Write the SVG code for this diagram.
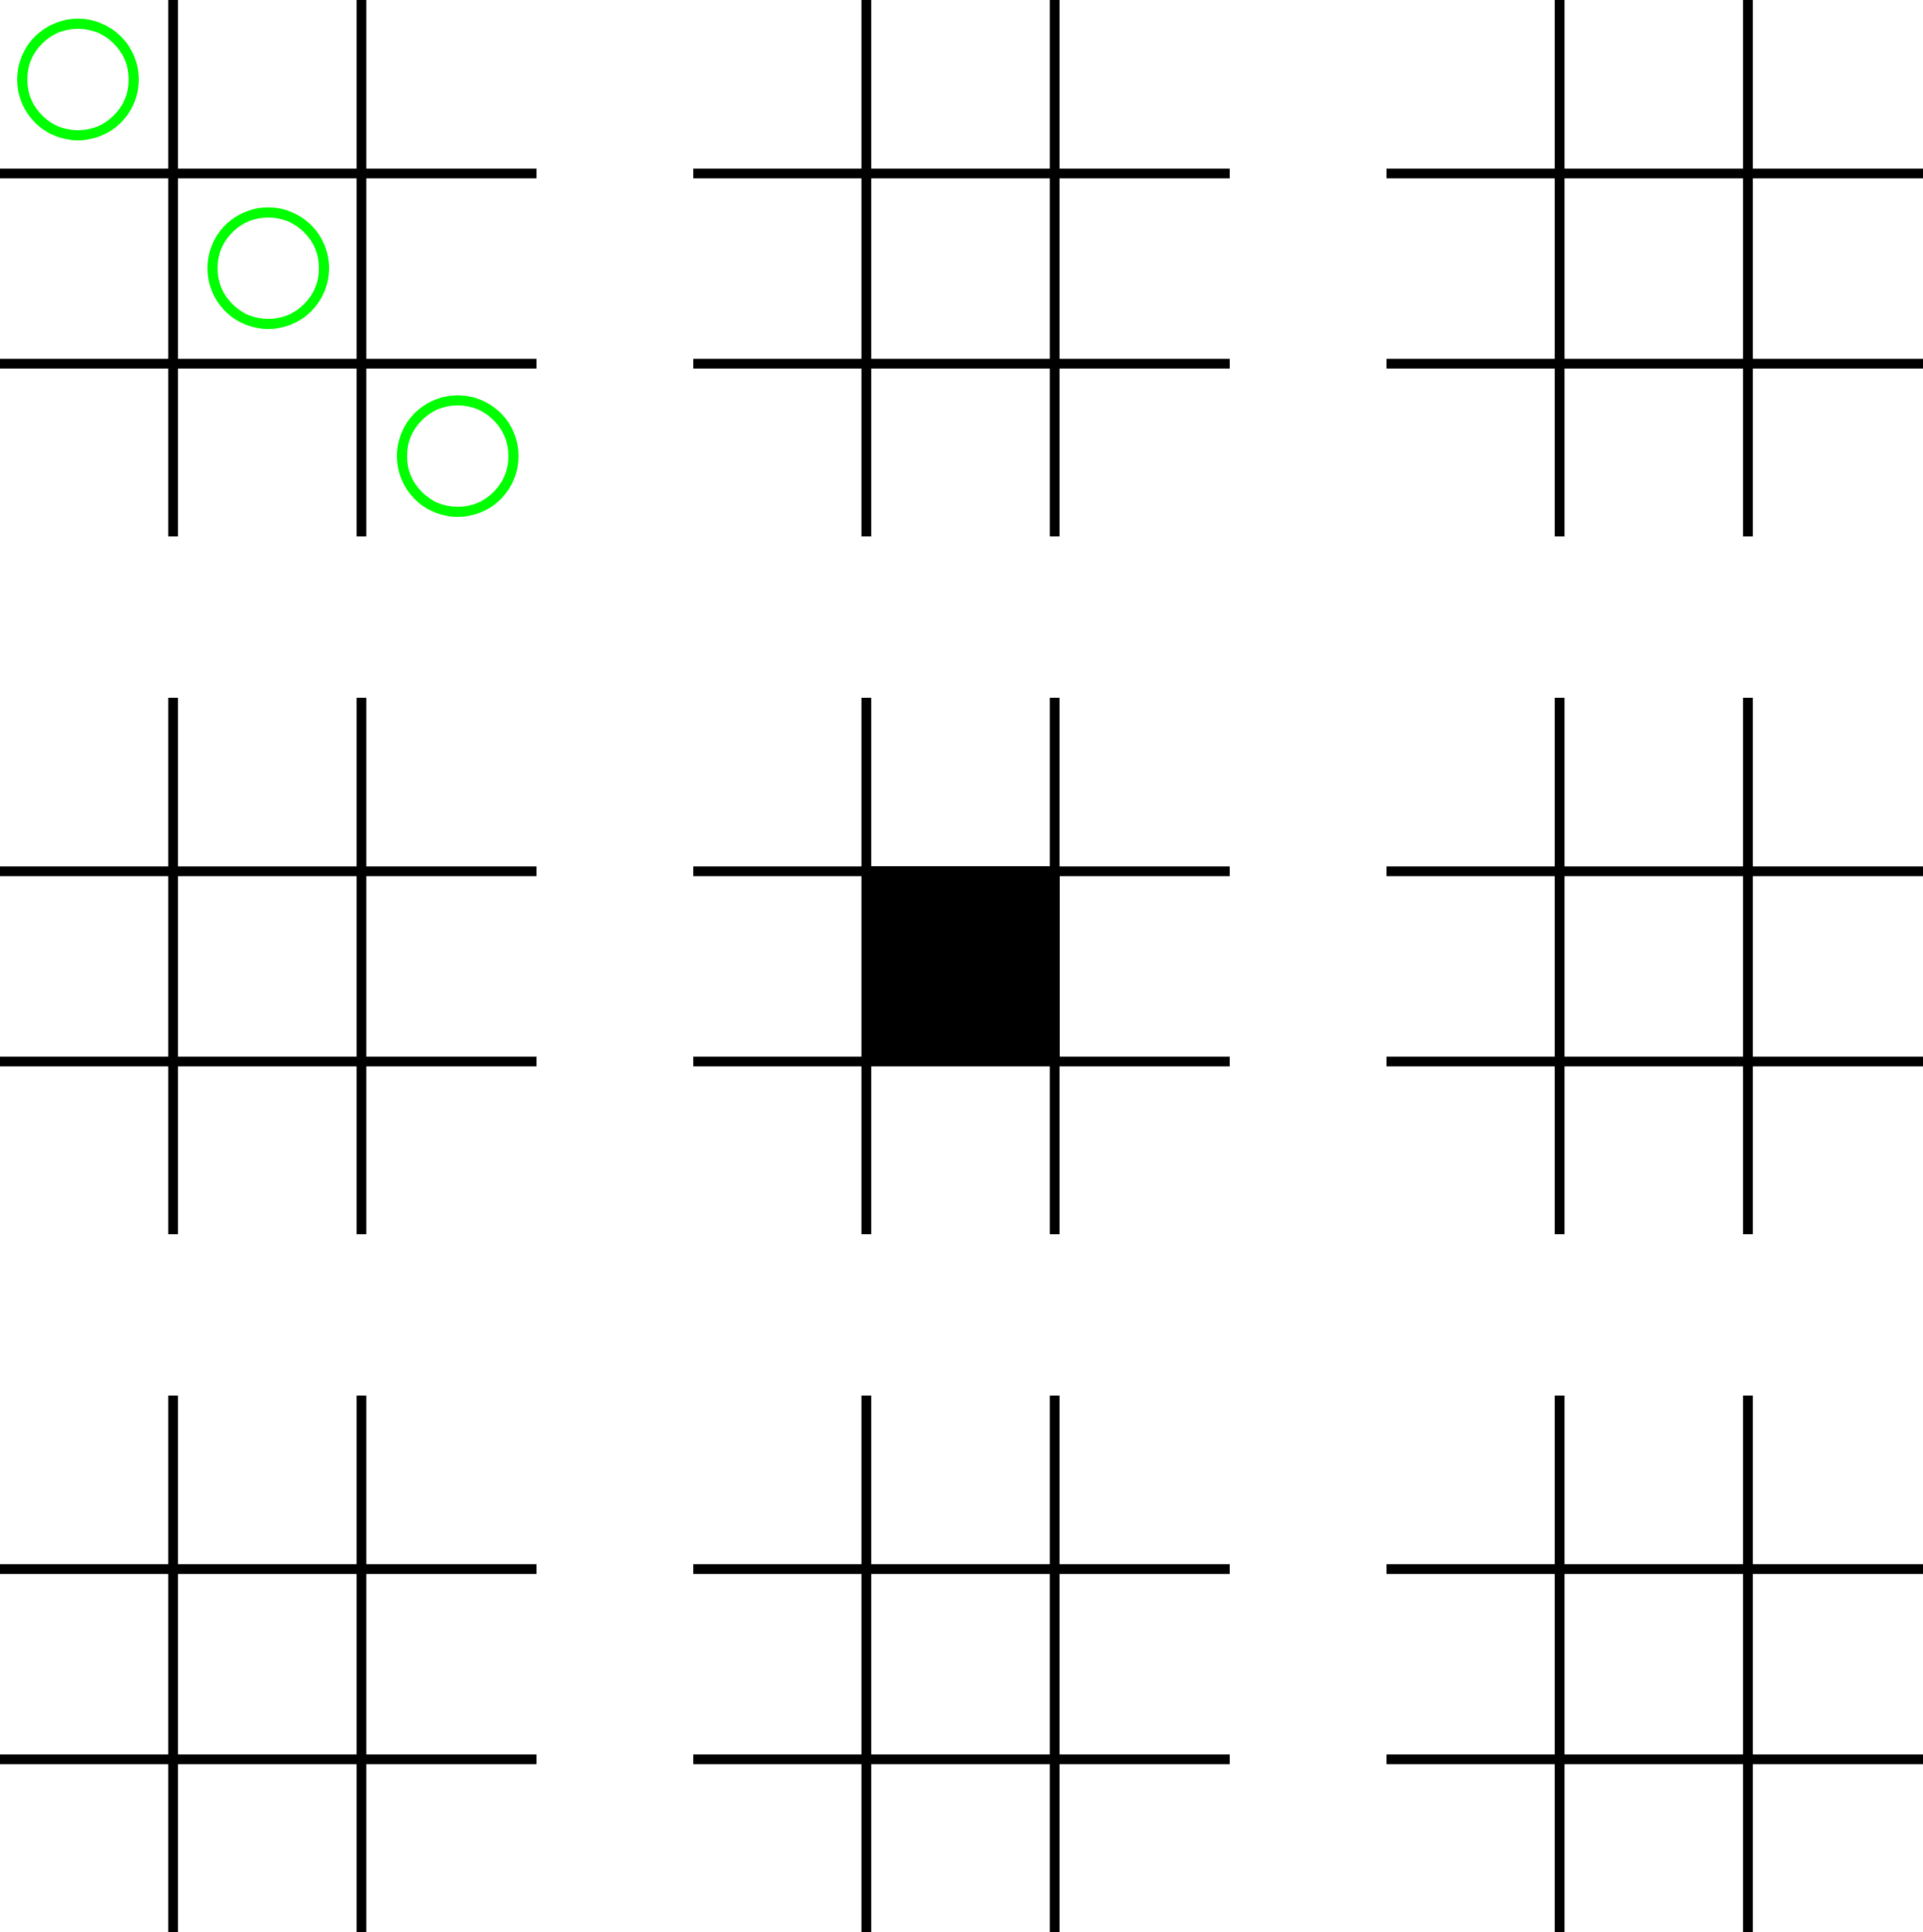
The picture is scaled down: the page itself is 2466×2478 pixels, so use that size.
<svg xmlns="http://www.w3.org/2000/svg" width="2466" height="2478" viewBox="0 0 2466 2478">
<style>
.g line{stroke:#000;stroke-width:12.5;}
.o{fill:none;stroke:#00ff00;stroke-width:13;}
</style>
<defs>
<g id="grid" class="g">
<line x1="0" y1="222.5" x2="688" y2="222.5"/>
<line x1="0" y1="466.5" x2="688" y2="466.5"/>
<line x1="222" y1="0" x2="222" y2="688"/>
<line x1="463.5" y1="0" x2="463.5" y2="688"/>
</g>
</defs>
<rect width="2466" height="2478" fill="#fff"/>
<g id="board-1-1"><use href="#grid" x="0" y="0"/>
<circle class="o" cx="100" cy="102" r="71.5"/>
<circle class="o" cx="344" cy="344" r="71.5"/>
<circle class="o" cx="587" cy="585" r="71.5"/>
</g>
<g id="board-1-2"><use href="#grid" x="889" y="0"/></g>
<g id="board-1-3"><use href="#grid" x="1778" y="0"/></g>
<g id="board-2-1"><use href="#grid" x="0" y="895"/></g>
<g id="board-2-2"><use href="#grid" x="889" y="895"/>
<rect x="1105" y="1111" width="254" height="256" fill="#000"/>
</g>
<g id="board-2-3"><use href="#grid" x="1778" y="895"/></g>
<g id="board-3-1"><use href="#grid" x="0" y="1790"/></g>
<g id="board-3-2"><use href="#grid" x="889" y="1790"/></g>
<g id="board-3-3"><use href="#grid" x="1778" y="1790"/></g>
<g id="connectors"/>
</svg>
